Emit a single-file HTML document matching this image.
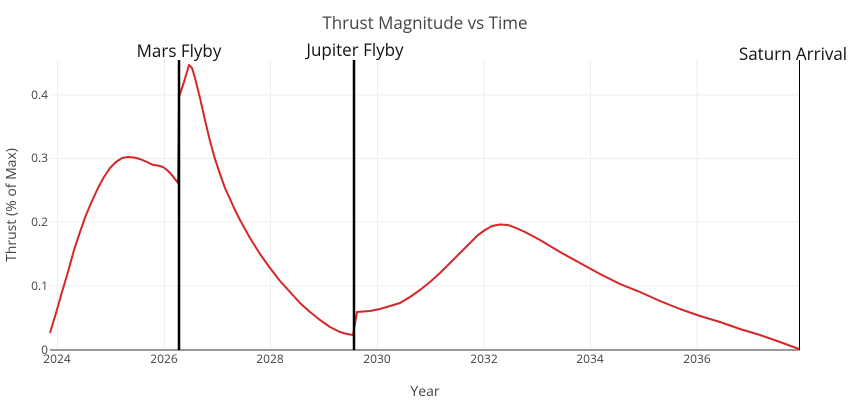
<!DOCTYPE html>
<html><head><style>body{margin:0;background:#fff}svg{font-family:"Open Sans","Liberation Sans",sans-serif}</style></head>
<body>
<svg width="850" height="400" viewBox="0 0 850 400">
<rect width="850" height="400" fill="#fff"/>
<g stroke="#eee" stroke-width="1">
<line x1="57.5" y1="60" x2="57.5" y2="350"/><line x1="164.5" y1="60" x2="164.5" y2="350"/><line x1="270.5" y1="60" x2="270.5" y2="350"/><line x1="377.5" y1="60" x2="377.5" y2="350"/><line x1="484" y1="60" x2="484" y2="350"/><line x1="590.5" y1="60" x2="590.5" y2="350"/><line x1="697" y1="60" x2="697" y2="350"/>
<line x1="50" y1="286" x2="800" y2="286"/><line x1="50" y1="222" x2="800" y2="222"/><line x1="50" y1="158.5" x2="800" y2="158.5"/><line x1="50" y1="95" x2="800" y2="95"/>
</g>
<line x1="50" y1="350" x2="800" y2="350" stroke="#999" stroke-width="2"/>
<polyline fill="none" stroke="#d62728" stroke-width="2" stroke-linejoin="round" points="50,333 56,313 62,292 68,272 74,250 80,232 86,215 92,201 98,188 104,177 110,168 116,162 122,158 128,157 134,157.5 140,159 147,162 153,165 158,165.5 163,167 167,170 171,174 175,179 178,183 179,97 184,82 189,65 192,68 195,78 200,98 205,120 210,141 215,159 220,174 225,188 230,199 235,210 240,220 250,238 260,254 270,268 280,281 290,292 300,303 310,312 320,320 330,327 340,332 347,334 353,335 357,312 370,311 380,309 390,306 400,303 410,297 420,290 430,282 440,273 450,263 460,253 470,243 478,235 485,230 492,226 500,224.5 508,225 516,228 525,232 540,240 560,252 580,263 600,274 620,284 640,292 660,301 680,309 700,316 720,322 740,329 760,335 780,342 799,349"/>
<line x1="179" y1="60" x2="179" y2="350" stroke="#000" stroke-width="2.5"/>
<line x1="354" y1="60" x2="354" y2="350" stroke="#000" stroke-width="2.5"/>
<line x1="799.5" y1="60" x2="799.5" y2="350" stroke="#000" stroke-width="1"/>
<g font-size="17" fill="#111" text-anchor="middle">
<text x="179" y="57">Mars Flyby</text><text x="355" y="56">Jupiter Flyby</text><text x="793" y="60">Saturn Arrival</text>
</g>
<text x="425" y="29" font-size="17" fill="#444" text-anchor="middle">Thrust Magnitude vs Time</text>
<g font-size="12" fill="#444" text-anchor="middle">
<text x="57" y="363">2024</text><text x="164" y="363">2026</text><text x="270" y="363">2028</text><text x="377" y="363">2030</text><text x="484" y="363">2032</text><text x="590" y="363">2034</text><text x="697" y="363">2036</text>
</g>
<g font-size="12" fill="#444" text-anchor="end">
<text x="48" y="354">0</text><text x="48" y="290">0.1</text><text x="48" y="226">0.2</text><text x="48" y="162">0.3</text><text x="48" y="99">0.4</text>
</g>
<text x="425" y="396" font-size="14" fill="#444" text-anchor="middle">Year</text>
<text transform="translate(16,205) rotate(-90)" font-size="14" fill="#444" text-anchor="middle">Thrust (% of Max)</text>
</svg>
</body></html>
